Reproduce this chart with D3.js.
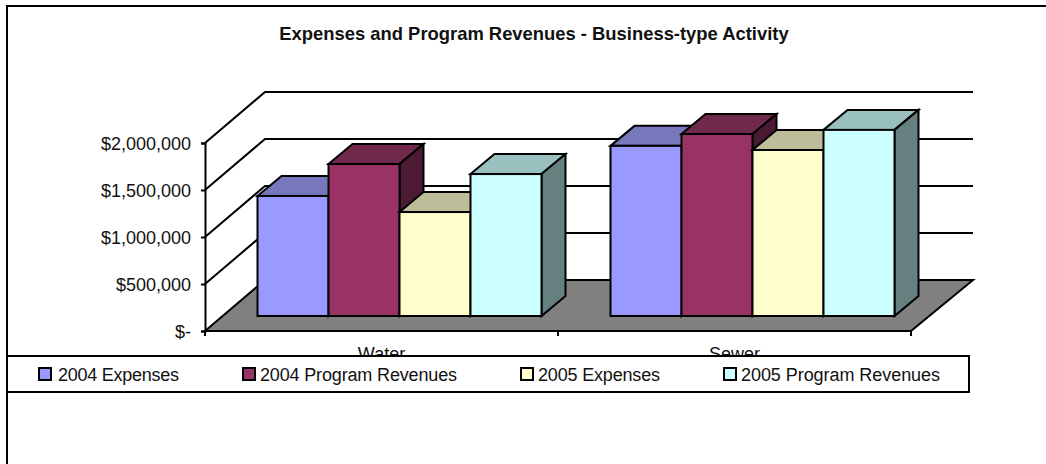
<!DOCTYPE html>
<html>
<head>
<meta charset="utf-8">
<script src="https://cdn.jsdelivr.net/npm/d3@7"></script>
<style>
  html, body { margin: 0; padding: 0; background: #fff; }
  svg { display: block; }
  text { font-family: "Liberation Sans", Arial, sans-serif; fill: #111; }
</style>
</head>
<body>
<div id="chart"></div>
<script>
// chart values
const categories = ["Water", "Sewer"];
const seriesNames = ["2004 Expenses", "2004 Program Revenues", "2005 Expenses", "2005 Program Revenues"];
const expenses2004 = [1277000, 1810000];
const revenues2004 = [1617000, 1936000];
const expenses2005 = [1106000, 1766000];
const revenues2005 = [1510000, 1980000];
const yTicks = [0, 500000, 1000000, 1500000, 2000000];
const titleText = "Expenses and Program Revenues - Business-type Activity";

const seriesValues = [expenses2004, revenues2004, expenses2005, revenues2005];
const frontColors = ["#9999ff", "#993366", "#ffffcc", "#ccffff"];
const topColors = ["#7777bb", "#70284b", "#bdbd99", "#99bfbf"];
const sideColors = ["#4d4d80", "#4d1a33", "#808066", "#668080"];

const width = 1046;
const height = 464;

const svg = d3.select("#chart")
    .append("svg")
    .attr("width", width)
    .attr("height", height);

// front plane of the 3d box
const y = d3.scaleLinear().domain([0, 2000000]).range([331, 143]);
const x0 = d3.scaleBand().domain(categories).range([205, 911]);
const x1 = d3.scaleBand().domain(seriesNames).range([34.5, x0.bandwidth() - 34.5]);

// oblique offsets: whole floor, bar start, bar depth
const wallDx = 60, wallDy = -51;
const barDx = 18, barDy = -15;
const depthDx = 24, depthDy = -20;

const pts = arr => arr.map(p => p.join(",")).join(" ");
const black = sel => sel.attr("stroke", "#000").attr("stroke-width", 2).attr("stroke-linejoin", "miter");

// outer border, only top and left
svg.append("path")
    .attr("d", `M7,${height}V6H${width}`)
    .attr("fill", "none")
    .call(black);

svg.append("text")
    .attr("x", 534)
    .attr("y", 40)
    .attr("text-anchor", "middle")
    .attr("font-size", 18.4)
    .attr("font-weight", "bold")
    .text(titleText);

// floor
svg.append("polygon")
    .attr("points", pts([
        [x0.range()[0], y(0)],
        [x0.range()[0] + wallDx, y(0) + wallDy],
        [x0.range()[1] + 62, y(0) + wallDy],
        [x0.range()[1], y(0)]
    ]))
    .attr("fill", "#808080")
    .call(black);

// wall gridlines: diagonal on the side wall, then along the back
svg.selectAll(".grid")
    .data(yTicks.slice(1))
    .enter()
    .append("polyline")
    .attr("class", "grid")
    .attr("points", d => pts([
        [x0.range()[0], y(d)],
        [x0.range()[0] + wallDx, y(d) + wallDy],
        [x0.range()[1] + 62, y(d) + wallDy]
    ]))
    .attr("fill", "none")
    .call(black);

// y axis
const yAxis = svg.append("g")
    .attr("transform", `translate(${x0.range()[0]},0)`)
    .call(d3.axisLeft(y)
        .tickValues(yTicks)
        .tickSize(4)
        .tickPadding(10)
        .tickFormat(d => d === 0 ? "$-" : d3.format("$,")(d)));
yAxis.select(".domain").attr("stroke-width", 2).attr("stroke", "#000");
yAxis.selectAll(".tick line").attr("stroke-width", 2).attr("stroke", "#000");
yAxis.selectAll(".tick text")
    .attr("y", 1)
    .attr("font-size", 18)
    .attr("font-family", "Liberation Sans")
    .attr("fill", "#111");

// x axis ticks
svg.selectAll(".xtick")
    .data([x0.range()[0], x0("Sewer"), x0.range()[1]])
    .enter()
    .append("line")
    .attr("class", "xtick")
    .attr("x1", d => d)
    .attr("x2", d => d)
    .attr("y1", y(0))
    .attr("y2", y(0) + 5)
    .call(black);

svg.selectAll(".cat")
    .data(categories)
    .enter()
    .append("text")
    .attr("class", "cat")
    .attr("x", d => x0(d) + x0.bandwidth() / 2)
    .attr("y", 360)
    .attr("text-anchor", "middle")
    .attr("font-size", 18)
    .text(d => d);

// bars, left to right so each one overlaps the side of the one before
categories.forEach((cat, c) => {
    seriesNames.forEach((name, s) => {
        const value = seriesValues[s][c];
        const left = x0(cat) + x1(name) + barDx;
        const right = left + x1.bandwidth();
        const base = y(0) + barDy;
        const top = y(value) + barDy;
        const g = svg.append("g").attr("class", "bar");
        g.append("polygon")
            .attr("points", pts([[left, top], [left + depthDx, top + depthDy], [right + depthDx, top + depthDy], [right, top]]))
            .attr("fill", topColors[s])
            .call(black);
        g.append("polygon")
            .attr("points", pts([[right, top], [right + depthDx, top + depthDy], [right + depthDx, base + depthDy], [right, base]]))
            .attr("fill", sideColors[s])
            .call(black);
        g.append("rect")
            .attr("x", left)
            .attr("y", top)
            .attr("width", right - left)
            .attr("height", base - top)
            .attr("fill", frontColors[s])
            .call(black);
    });
});

// legend box sits on top of the category labels and clips them
svg.append("rect")
    .attr("x", 7)
    .attr("y", 356)
    .attr("width", 962)
    .attr("height", 36)
    .attr("fill", "#fff")
    .call(black);

const legendX = [39, 243, 521, 724];
const legendTextX = [58, 260, 538, 741];
const legendTextLen = [121, 197, 122, 199];
const legend = svg.selectAll(".legend")
    .data(seriesNames)
    .enter()
    .append("g")
    .attr("class", "legend");
legend.append("rect")
    .attr("x", (d, i) => legendX[i])
    .attr("y", 368)
    .attr("width", 12)
    .attr("height", 12)
    .attr("fill", (d, i) => frontColors[i])
    .call(black);
legend.append("text")
    .attr("x", (d, i) => legendTextX[i])
    .attr("y", 381)
    .attr("font-size", 18)
    .attr("textLength", (d, i) => legendTextLen[i])
    .attr("lengthAdjust", "spacing")
    .text(d => d);
</script>
</body>
</html>
